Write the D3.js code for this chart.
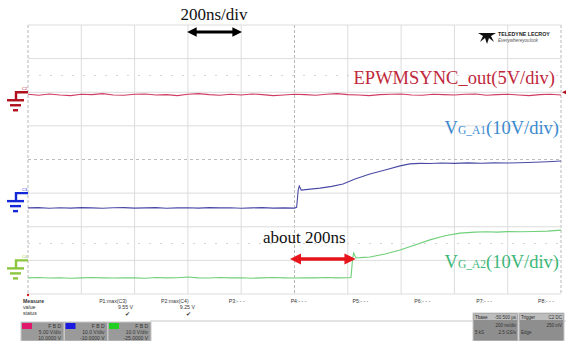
<!DOCTYPE html>
<html><head><meta charset="utf-8">
<script src="https://cdn.jsdelivr.net/npm/d3@7"></script>
<style>body{margin:0;background:#fff}svg{display:block}</style>
</head><body><svg id="c" width="566" height="341"></svg>
<script>
// ---- data ----
const redT = [-1000,-960,-920,-880,-840,-800,-760,-720,-680,-640,-600,-560,-520,-480,-440,-400,-360,-320,-280,-240,-200,-160,-120,-80,-40,0,40,80,120,160,200,240,280,320,360,400,440,480,520,560,600,640,680,720,760,800,840,880,920,960,1000];
const redV = [-0.3,-0.45,-0.25,-0.4,-0.5,-0.3,-0.35,-0.2,-0.4,-0.45,-0.3,-0.25,-0.4,-0.35,-0.5,-0.3,-0.2,-0.35,-0.45,-0.3,-0.4,-0.25,-0.35,-0.5,-0.4,-0.3,-0.35,-0.45,-0.3,-0.2,-0.35,-0.4,-0.5,-0.35,-0.3,-0.25,-0.4,-0.45,-0.3,-0.35,-0.4,-0.3,-0.25,-0.45,-0.35,-0.3,-0.4,-0.5,-0.35,-0.3,-0.4];
const blueT = [-1000,-960,-920,-880,-840,-800,-760,-720,-680,-640,-600,-560,-520,-480,-440,-400,-360,-320,-280,-240,-200,-160,-120,-80,-40,0,8,14,18,25,60,96,140,182,227,283,340,396,433,470,508,550,600,650,700,750,800,846,900,950,1000];
const blueV = [-4.4,-4.3,-4.5,-4.35,-4.45,-4.3,-4.4,-4.5,-4.35,-4.3,-4.45,-4.4,-4.3,-4.5,-4.4,-4.35,-4.45,-4.3,-4.4,-4.35,-4.5,-4.4,-4.3,-4.45,-4.4,-4.45,-4.2,1.0,2.1,0.9,1.2,1.5,2.0,2.7,4.2,5.7,6.9,8.1,8.7,8.85,8.8,8.95,8.85,9.0,8.9,9.0,8.95,9.05,9.2,9.35,9.55];
const greenT = [-1000,-960,-920,-880,-840,-800,-760,-720,-680,-640,-600,-560,-520,-480,-440,-400,-360,-320,-280,-240,-200,-160,-120,-80,-40,0,40,80,120,160,200,212,218,222,231,260,283,340,396,452,508,565,621,677,720,760,800,850,900,950,1000];
const greenV = [-5.2,-5.1,-5.25,-5.15,-5.3,-5.2,-5.1,-5.2,-5.25,-5.15,-5.2,-5.3,-5.1,-5.2,-5.15,-4.95,-5.2,-5.25,-5.1,-5.2,-5.15,-5.3,-5.2,-5.1,-5.2,-5.25,-5.15,-5.2,-5.1,-5.2,-5.15,-5.1,0.5,2.2,0.7,0.9,1.0,1.9,3.1,4.6,6.1,7.3,8.1,8.4,8.5,8.4,8.55,8.5,8.6,8.7,9.0];
const channelNames = ["C2","C3","C4"];
const voltsPerDiv = [5,10,10];
const groundDiv = [2,-1,-3];
const chanColors = ["#cf3c62","#4a4aa6","#6fd07a"];
const markerColors = ["#b0101c","#1428d8","#8cc63f"];
const timeDivs = [-1000,-800,-600,-400,-200,0,200,400,600,800,1000];
const vertDivs = [-4,-3,-2,-1,0,1,2,3,4];
const measureNames = ["P1:max(C3)","P2:max(C4)","P3:- - -","P4:- - -","P5:- - -","P6:- - -","P7:- - -","P8:- - -"];
const measureValues = ["9.55 V","9.25 V","","","","","",""];
const chanBoxRows = [["5.00 V/div","10.0000 V"],["10.0 V/div","-10.0000 V"],["10.0 V/div","-25.0000 V"]];

const svg = d3.select("#c");
const x = d3.scaleLinear().domain([-1000,1000]).range([28,561]);
const y = d3.scaleLinear().domain([-4,4]).range([294,25]);

// grid
const g = svg.append("g");
g.selectAll("line.v").data(timeDivs).join("line")
  .attr("x1",d=>x(d)).attr("x2",d=>x(d)).attr("y1",y(4)).attr("y2",y(-4))
  .attr("stroke",(d)=> (d===0||d===-1000||d===1000)?"#b8b8b8":"#dcdcdc")
  .attr("stroke-dasharray",(d)=> (d===0||d===-1000||d===1000)?"3,2":null)
  .attr("stroke-width",1);
g.selectAll("line.h").data(vertDivs).join("line")
  .attr("x1",x(-1000)).attr("x2",x(1000)).attr("y1",d=>y(d)).attr("y2",d=>y(d))
  .attr("stroke",d=>d===0?"#bdbdbd":"#dcdcdc")
  .attr("stroke-dasharray",d=>d===0?"3,3":null);
g.selectAll("line.dl").data([2.5,-2.5]).join("line")
  .attr("x1",x(-1000)).attr("x2",x(1000)).attr("y1",d=>y(d)).attr("y2",d=>y(d))
  .attr("stroke","#d4d4d4").attr("stroke-dasharray","2,9");

// traces
const traces = [[redT,redV],[blueT,blueV],[greenT,greenV]];
traces.forEach(([T,V],i)=>{
  const line = d3.line().x(d=>x(d[0])).y(d=>y(d[1]/voltsPerDiv[i]+groundDiv[i]));
  svg.append("path").datum(T.map((t,k)=>[t,V[k]]))
    .attr("d",line).attr("fill","none").attr("stroke",chanColors[i]).attr("stroke-width",1.1);
});

// ground markers
groundDiv.forEach((gd,i)=>{
  const gy = y(gd), c = markerColors[i];
  const m = svg.append("g").attr("stroke",c).attr("stroke-width",2.4).attr("fill","none");
  m.append("path").attr("d",`M28,${gy} H16 V${gy+8}`);
  m.append("line").attr("x1",7).attr("x2",24).attr("y1",gy+8).attr("y2",gy+8);
  m.append("line").attr("x1",10).attr("x2",21).attr("y1",gy+13).attr("y2",gy+13);
  m.append("line").attr("x1",13).attr("x2",18).attr("y1",gy+18).attr("y2",gy+18);
  svg.append("text").attr("x",22).attr("y",gy-2).attr("font-size",4).attr("fill",c)
    .attr("font-family","Arial").text(channelNames[i]);
});
svg.append("path").attr("d",`M566,${y(2)-2} L562,${y(2)} L566,${y(2)+2}Z`).attr("fill","#b0101c");
svg.append("circle").attr("cx",28).attr("cy",295).attr("r",1.2).attr("fill","#d02020");

// arrowhead markers
const defs = svg.append("defs");
function arrowMarker(id,col){
  defs.append("marker").attr("id",id).attr("viewBox","0 0 10 10").attr("refX",5).attr("refY",5)
    .attr("markerWidth",3.2).attr("markerHeight",3.2).attr("orient","auto-start-reverse")
    .append("path").attr("d","M0,0 L10,5 L0,10 Z").attr("fill",col);
}
arrowMarker("ak","#000"); arrowMarker("ar","#e8141c");

// annotations
const serif = "'Liberation Serif','Times New Roman',serif";
svg.append("text").attr("x",214).attr("y",20).attr("text-anchor","middle")
  .attr("font-family",serif).attr("font-size",17).attr("fill","#111").text("200ns/div");
svg.append("line").attr("x1",x(-400)+4).attr("x2",x(-200)-4).attr("y1",32).attr("y2",32)
  .attr("stroke","#000").attr("stroke-width",3).attr("marker-start","url(#ak)").attr("marker-end","url(#ak)");
svg.append("text").attr("x",555).attr("y",84).attr("text-anchor","end")
  .attr("font-family",serif).attr("font-size",18.5).attr("fill","#c0283c").text("EPWMSYNC_out(5V/div)");
function vgLabel(yb,sub,col){
  const t = svg.append("text").attr("x",559).attr("y",yb).attr("text-anchor","end")
    .attr("font-family",serif).attr("fill",col).attr("font-size",18.5);
  t.append("tspan").text("V");
  t.append("tspan").attr("font-size",11.5).text(sub);
  t.append("tspan").text("(10V/div)");
}
vgLabel(134,"G_A1","#3a8ad0");
vgLabel(268,"G_A2","#3cb878");
svg.append("text").attr("x",263).attr("y",243)
  .attr("font-family",serif).attr("font-size",17).attr("fill","#111").text("about 200ns");
svg.append("line").attr("x1",x(0)+1).attr("x2",x(216)-2).attr("y1",259).attr("y2",259)
  .attr("stroke","#e8141c").attr("stroke-width",3.5).attr("marker-start","url(#ar)").attr("marker-end","url(#ar)");

// logo
const lg = svg.append("g").attr("transform","translate(487,38)");
lg.append("path").attr("d","M-9,-5 L9,-5 L4,-2 L7,4 L2,0 L0,6 L-2,0 L-7,4 L-4,-2 Z").attr("fill","#111");
lg.append("text").attr("x",11).attr("y",-2).attr("font-family","Arial").attr("font-weight","bold")
  .attr("font-size",5.3).attr("fill","#222").text("TELEDYNE LECROY");
lg.append("text").attr("x",11).attr("y",4).attr("font-family","Arial").attr("font-style","italic")
  .attr("font-size",4.6).attr("fill","#555").text("Everywhereyoulook");

// measure panel
const sans = "Arial, 'Liberation Sans', sans-serif";
const mp = svg.append("g").attr("font-family",sans).attr("font-size",5.2).attr("fill","#333");
mp.append("text").attr("x",23).attr("y",303).attr("font-weight","bold").text("Measure");
mp.append("text").attr("x",23).attr("y",309).text("value");
mp.append("text").attr("x",23).attr("y",315).text("status");
const mx = d3.scaleLinear().domain([0,7]).range([113,546]);
measureNames.forEach((n,i)=>{
  mp.append("text").attr("x",mx(i)).attr("y",303).attr("text-anchor","middle").text(n);
  if(measureValues[i]){
    mp.append("text").attr("x",mx(i)+20).attr("y",309).attr("text-anchor","end").text(measureValues[i]);
    mp.append("text").attr("x",mx(i)+14).attr("y",316).attr("text-anchor","middle").attr("font-size",6).text("✔");
  }
});
svg.append("line").attr("x1",150).attr("x2",566).attr("y1",321).attr("y2",321).attr("stroke","#c8c8c8");
// channel boxes
const tagCols = ["#e0186c","#1a1ae0","#20d020"];
chanBoxRows.forEach((rows,i)=>{
  const bx = 21 + i*43.5;
  const b = svg.append("g").attr("font-family",sans).attr("font-size",5);
  b.append("rect").attr("x",bx).attr("y",322).attr("width",43).attr("height",19).attr("fill","#9a9a9a").attr("stroke","#c8c8c8");
  b.append("rect").attr("x",bx+1).attr("y",323).attr("width",10).attr("height",6).attr("fill",tagCols[i]);
  b.append("text").attr("x",bx+40).attr("y",328).attr("text-anchor","end").attr("fill","#333").text("F B D");
  b.append("text").attr("x",bx+40).attr("y",334).attr("text-anchor","end").attr("fill","#333").text(rows[0]);
  b.append("text").attr("x",bx+40).attr("y",340).attr("text-anchor","end").attr("fill","#333").text(rows[1]);
});
const rb = [["Tbase","-50.500 µs","200 ns/div","5 kS","2.5 GS/s"],["Trigger","C2 DC","250 mV","Edge",""]];
rb.forEach((r,i)=>{
  const bx = 473 + i*46;
  const b = svg.append("g").attr("font-family",sans).attr("font-size",4.5);
  b.append("rect").attr("x",bx).attr("y",313).attr("width",45).attr("height",28).attr("fill","#8e8e8e").attr("stroke","#c8c8c8");
  b.append("rect").attr("x",bx+1).attr("y",314).attr("width",43).attr("height",6).attr("fill","#bdbdbd");
  b.append("text").attr("x",bx+2).attr("y",319).attr("fill","#222").text(r[0]);
  b.append("text").attr("x",bx+43).attr("y",319).attr("text-anchor","end").attr("fill","#333").text(r[1]);
  b.append("text").attr("x",bx+43).attr("y",327).attr("text-anchor","end").attr("fill","#333").text(r[2]);
  b.append("text").attr("x",bx+2).attr("y",334).attr("fill","#333").text(r[3]);
  b.append("text").attr("x",bx+43).attr("y",334).attr("text-anchor","end").attr("fill","#333").text(r[4]);
});
</script></body></html>
